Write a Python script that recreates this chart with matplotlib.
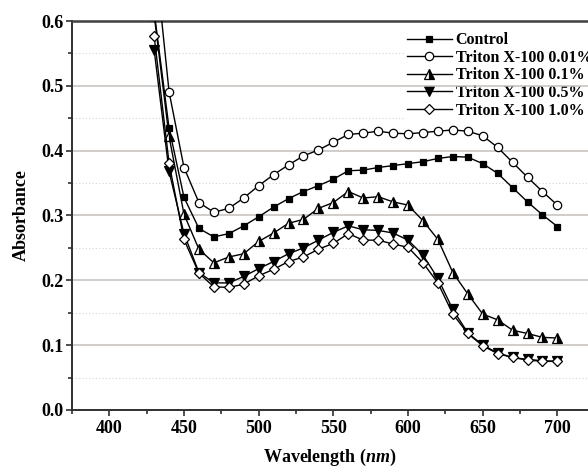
import matplotlib

matplotlib.use("Agg")
import matplotlib.pyplot as plt
from matplotlib.ticker import MultipleLocator, FormatStrFormatter


wavelength = [430, 440, 450, 460, 470, 480, 490, 500, 510, 520, 530, 540, 550, 560,
              570, 580, 590, 600, 610, 620, 630, 640, 650, 660, 670, 680, 690, 700]

control = [0.615, 0.435, 0.328, 0.280, 0.267, 0.272, 0.284, 0.298, 0.313, 0.326, 0.337, 0.346,
           0.356, 0.369, 0.370, 0.374, 0.377, 0.380, 0.383, 0.388, 0.391, 0.390, 0.380, 0.365,
           0.343, 0.321, 0.301, 0.283]
triton_001 = [0.715, 0.491, 0.374, 0.320, 0.305, 0.311, 0.327, 0.346, 0.363, 0.378, 0.392, 0.401,
              0.413, 0.425, 0.427, 0.430, 0.427, 0.426, 0.428, 0.430, 0.432, 0.430, 0.423, 0.405,
              0.382, 0.359, 0.337, 0.316]
triton_01 = [0.610, 0.422, 0.302, 0.248, 0.227, 0.236, 0.241, 0.260, 0.273, 0.288, 0.294, 0.311,
             0.320, 0.337, 0.327, 0.329, 0.321, 0.316, 0.292, 0.263, 0.212, 0.179, 0.148, 0.139,
             0.123, 0.118, 0.112, 0.111]
triton_05 = [0.556, 0.368, 0.272, 0.212, 0.196, 0.196, 0.206, 0.218, 0.229, 0.241, 0.250, 0.262,
             0.274, 0.284, 0.278, 0.277, 0.273, 0.262, 0.239, 0.203, 0.155, 0.119, 0.100, 0.088,
             0.081, 0.078, 0.076, 0.075]
triton_10 = [0.577, 0.381, 0.263, 0.211, 0.190, 0.189, 0.194, 0.207, 0.217, 0.229, 0.236, 0.248,
             0.257, 0.272, 0.262, 0.262, 0.256, 0.251, 0.227, 0.196, 0.148, 0.118, 0.099, 0.087,
             0.081, 0.077, 0.075, 0.075]

labels = ["Control", "Triton X-100 0.01%", "Triton X-100 0.1%",
          "Triton X-100 0.5%", "Triton X-100 1.0%"]

plt.rcParams["font.family"] = ["Liberation Serif", "DejaVu Serif"]
plt.rcParams["font.weight"] = "bold"
plt.rcParams["mathtext.fontset"] = "custom"
plt.rcParams["mathtext.rm"] = "Liberation Serif:bold"
plt.rcParams["mathtext.it"] = "Liberation Serif:italic:bold"
plt.rcParams["mathtext.bf"] = "Liberation Serif:bold"

fig = plt.figure(figsize=(5.88, 4.70), dpi=100)
ax = fig.add_axes([0.1224, 0.1277, 0.8776, 0.8276])

common = dict(color="black", lw=1.0, markeredgecolor="black", markeredgewidth=0.9, zorder=3)
ax.plot(wavelength, control, marker="s", markersize=5, markerfacecolor="black",
        label=labels[0], **common)
ax.plot(wavelength, triton_001, marker="o", markersize=6, markerfacecolor="white",
        label=labels[1], **common)
ax.plot(wavelength, triton_01, marker="^", markersize=6.5, markerfacecolor="black",
        markerfacecoloralt="white", fillstyle="right", label=labels[2], **common)
ax.plot(wavelength, triton_05, marker="v", markersize=6.5, markerfacecolor="black",
        label=labels[3], **common)
ax.plot(wavelength, triton_10, marker="D", markersize=5, markerfacecolor="white",
        label=labels[4], **common)

ax.set_xlim(375, 720.5)
ax.set_ylim(0.0, 0.6)
ax.xaxis.set_major_locator(MultipleLocator(50))
ax.xaxis.set_minor_locator(MultipleLocator(25))
ax.yaxis.set_major_locator(MultipleLocator(0.1))
ax.yaxis.set_minor_locator(MultipleLocator(0.05))
ax.yaxis.set_major_formatter(FormatStrFormatter("%.1f"))

# minor grid sits under the legend box, major grid is drawn over it
ax.set_axisbelow(True)
ax.grid(which="minor", axis="y", color="#d4d4d4", lw=0.8, ls=(0, (1, 2)))
for yv in ax.get_yticks():
    if 0 < yv < 0.6:
        ax.axhline(yv, color="#c4c0bc", lw=1.1, zorder=0.8)

for side in ["left", "bottom"]:
    ax.spines[side].set_color("#303030")
    ax.spines[side].set_linewidth(1.4)
ax.spines["top"].set_color("#404040")
ax.spines["top"].set_linewidth(1.8)
ax.spines["right"].set_visible(False)

ax.tick_params(which="both", direction="out", color="#303030", width=1.2)
ax.tick_params(which="major", length=4, labelsize=13)
ax.tick_params(which="minor", length=3)
ax.tick_params(axis="x", which="major", pad=3)
ax.tick_params(axis="y", which="major", pad=2)
for lab in ax.get_xticklabels() + ax.get_yticklabels():
    lab.set_fontweight("bold")

ax.set_xlabel(r"Wavelength ($\mathit{nm}$)", fontsize=13, fontweight="bold", labelpad=7)
ax.set_ylabel("Absorbance", fontsize=13, fontweight="bold", labelpad=8)

leg = ax.legend(loc="upper right", bbox_to_anchor=(1.03, 1.0),
                handlelength=2.8, handletextpad=0.25, labelspacing=0.1,
                frameon=True, framealpha=1.0, edgecolor="none", facecolor="white",
                borderpad=0.2, prop={"weight": "bold", "size": 11.5})
leg.set_zorder(0.7)

fig.savefig("out.png", dpi=100)
